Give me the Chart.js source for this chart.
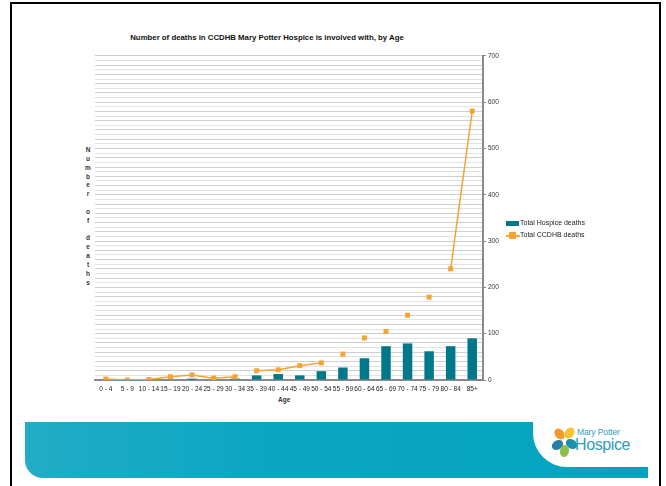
<!DOCTYPE html>
<html>
<head>
<meta charset="utf-8">
<script src="https://cdn.jsdelivr.net/npm/chart.js@4/dist/chart.umd.min.js"></script>
<style>
  body { margin: 0; width: 666px; height: 486px; overflow: hidden; background: #fff; font-family: "Liberation Sans", Arial, sans-serif; position: relative; }
  .frame { position: absolute; left: 10px; top: 2px; width: 647px; height: 500px; border: 2px solid #000; }
  #chart { position: absolute; left: 91px; top: 50px; }
  .title { position: absolute; left: 0; width: 534px; top: 33px; text-align: center; font-size: 7.8px; font-weight: bold; color: #111; }
  .ytitle { position: absolute; left: 84px; top: 146px; width: 8px; font-size: 6.5px; font-weight: bold; color: #333; line-height: 8.85px; text-align: center; }
  .xtitle { position: absolute; left: 278px; top: 396px; font-size: 6.5px; font-weight: bold; color: #333; }
  .legend { position: absolute; left: 506px; top: 218px; font-size: 7px; color: #222; }
  .legend div { position: relative; height: 12px; line-height: 10px; padding-left: 14px; }
  .lg-bar { position: absolute; left: 0; top: 3px; width: 13px; height: 5px; background: #00788a; }
  .lg-line { position: absolute; left: 0; top: 5px; width: 14px; height: 1.5px; background: #f7a231; }
  .lg-pt { position: absolute; left: 3px; top: 2px; width: 7px; height: 7px; background: #f7a231; }
  .banner { position: absolute; left: 25px; top: 422px; width: 623px; height: 56px; border-bottom-left-radius: 18px;
            background: linear-gradient(90deg, #22acc6 0%, #0aa6c2 40%, #05a3c0 100%); }
  .cut { position: absolute; left: 533px; top: 421px; width: 116px; height: 46px; background: #fff; border-bottom-left-radius: 34px; }
  .logo1 { position: absolute; left: 577px; top: 427px; font-size: 8.5px; color: #2f9cb8; letter-spacing: -0.1px; }
  .logo2 { position: absolute; left: 575px; top: 436px; font-size: 16px; color: #2f9cb8; letter-spacing: -0.4px; }
  .petal { position: absolute; width: 9px; height: 12px; border-radius: 50%; }
</style>
</head>
<body>
<div class="frame"></div>
<div class="title">Number of deaths in CCDHB Mary Potter Hospice is involved with, by Age</div>
<div class="ytitle">N<br>u<br>m<br>b<br>e<br>r<br>&nbsp;<br>o<br>f<br>&nbsp;<br>d<br>e<br>a<br>t<br>h<br>s</div>
<div class="xtitle">Age</div>
<canvas id="chart" width="416" height="358"></canvas>
<div class="legend">
  <div><span class="lg-bar"></span>Total Hospice deaths</div>
  <div><span class="lg-line"></span><span class="lg-pt"></span>Total CCDHB deaths</div>
</div>
<div class="banner"></div>
<div class="cut"></div>
<div class="petal" style="left:555px;top:428px;background:#f39a2b;transform:rotate(-40deg)"></div>
<div class="petal" style="left:565px;top:427px;background:#f6c531;transform:rotate(35deg)"></div>
<div class="petal" style="left:567px;top:438px;background:#1a8fb0;transform:rotate(-60deg)"></div>
<div class="petal" style="left:553px;top:439px;background:#2a7fa8;transform:rotate(60deg)"></div>
<div class="petal" style="left:560px;top:445px;background:#8cc04a;transform:rotate(10deg)"></div>
<div class="logo1">Mary Potter</div>
<div class="logo2">Hospice</div>
<script>
// Данные графика
const ageGroups = ['0 - 4', '5 - 9', '10 - 14', '15 - 19', '20 - 24', '25 - 29', '30 - 34', '35 - 39', '40 - 44',
  '45 - 49', '50 - 54', '55 - 59', '60 - 64', '65 - 69', '70 - 74', '75 - 79', '80 - 84', '85+'];
const hospiceDeaths = [0, 0, 1, 0, 3, 0, 3, 10, 13, 10, 19, 27, 47, 73, 79, 62, 73, 90];
const ccdhbDeaths = [2, 0, 1, 7, 11, 4, 7, 20, 22, 31, 37, 56, 91, 105, 140, 179, 240, 581];
const yTicks = [0, 100, 200, 300, 400, 500, 600, 700];
// отрезки линии, которых нет на картинке
const hiddenSegments = [6, 10, 11, 12, 13, 14, 15];

const orange = '#f7a231';
const teal = '#00788a';

const ctx = document.getElementById('chart').getContext('2d');
new Chart(ctx, {
  data: {
    labels: ageGroups,
    datasets: [{
      type: 'line',
      label: 'Total CCDHB deaths',
      data: ccdhbDeaths,
      order: 0,
      borderColor: orange,
      borderWidth: 1.5,
      pointStyle: 'rect',
      pointRadius: 3.5,
      pointBackgroundColor: orange,
      pointBorderColor: orange,
      pointBorderWidth: 0,
      segment: {
        borderColor: c => hiddenSegments.includes(c.p0DataIndex) ? 'transparent' : orange
      }
    }, {
      type: 'bar',
      label: 'Total Hospice deaths',
      data: hospiceDeaths,
      order: 1,
      backgroundColor: teal,
      categoryPercentage: 1,
      barPercentage: 0.44
    }]
  },
  options: {
    responsive: false,
    animation: false,
    layout: { padding: { top: 4, left: 0, right: 0, bottom: 0 } },
    plugins: { legend: { display: false }, tooltip: { enabled: false } },
    scales: {
      x: {
        grid: { display: false, drawTicks: false, tickLength: 0 },
        border: { color: '#8a8a8a', width: 2 },
        ticks: { autoSkip: false, maxRotation: 0, padding: 5, color: '#222', font: { family: 'Liberation Sans', size: 6.5 } },
        afterFit: s => { s.height = 28; }
      },
      y: {
        position: 'right',
        min: 0,
        max: 700,
        ticks: {
          stepSize: 10,
          maxTicksLimit: 100,
          autoSkip: false,
          padding: 2,
          color: '#333',
          font: { family: 'Liberation Sans', size: 6.5 },
          callback: v => yTicks.includes(v) ? v : ''
        },
        grid: {
          color: c => c.tick && c.tick.value % 20 === 0 ? '#cfcfcf' : '#e2e2e2',
          tickColor: c => c.tick && yTicks.includes(c.tick.value) ? '#8a8a8a' : 'transparent',
          tickLength: 3
        },
        border: { color: '#8a8a8a', width: 2 },
        afterFit: s => { s.width = 24; }
      }
    }
  }
});
</script>
</body>
</html>
